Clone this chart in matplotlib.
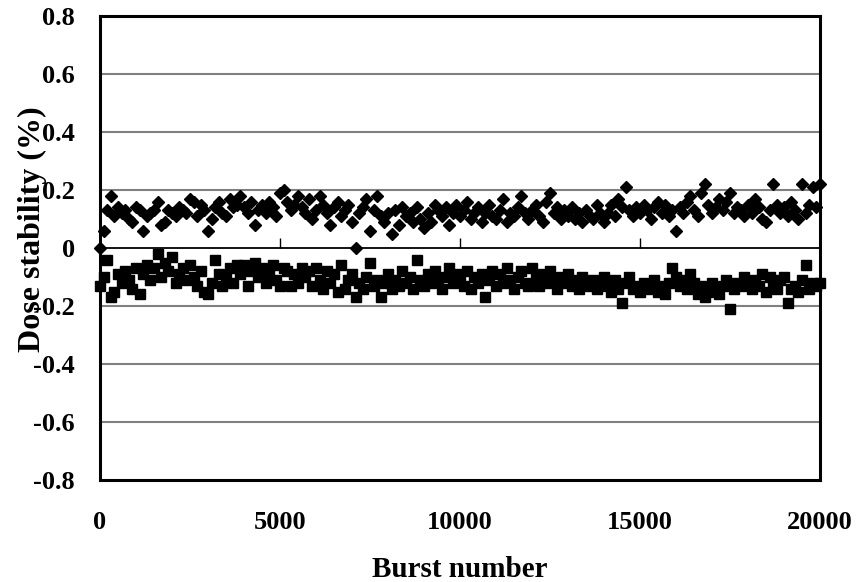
"""Dose stability versus burst number (two polarities)."""

import numpy as np
import matplotlib
matplotlib.use("Agg")
import matplotlib.pyplot as plt


BURST = np.arange(0, 20001, 100)

DOSE_POS = [
    0.00, 0.06, 0.13, 0.18, 0.11, 0.14, 0.12, 0.13, 0.10, 0.09,
    0.14, 0.13, 0.06, 0.11, 0.12, 0.13, 0.16, 0.08, 0.09, 0.13,
    0.12, 0.11, 0.14, 0.13, 0.12, 0.17, 0.16, 0.11, 0.15, 0.13,
    0.06, 0.10, 0.14, 0.16, 0.12, 0.11, 0.17, 0.14, 0.15, 0.18,
    0.14, 0.12, 0.16, 0.08, 0.13, 0.15, 0.12, 0.16, 0.14, 0.11,
    0.19, 0.20, 0.16, 0.13, 0.15, 0.18, 0.14, 0.12, 0.17, 0.10,
    0.13, 0.18, 0.15, 0.12, 0.08, 0.14, 0.16, 0.11, 0.13, 0.15,
    0.09, 0.00, 0.12, 0.14, 0.17, 0.06, 0.13, 0.18, 0.11, 0.09,
    0.12, 0.05, 0.13, 0.08, 0.14, 0.11, 0.12, 0.09, 0.14, 0.10,
    0.07, 0.12, 0.09, 0.15, 0.13, 0.11, 0.14, 0.08, 0.12, 0.15,
    0.11, 0.13, 0.16, 0.10, 0.12, 0.14, 0.09, 0.12, 0.15, 0.11,
    0.10, 0.13, 0.17, 0.09, 0.12, 0.11, 0.14, 0.18, 0.12, 0.10,
    0.13, 0.15, 0.11, 0.09, 0.16, 0.19, 0.12, 0.14, 0.10, 0.13,
    0.11, 0.14, 0.10, 0.12, 0.09, 0.13, 0.11, 0.10, 0.15, 0.12,
    0.09, 0.12, 0.15, 0.11, 0.17, 0.14, 0.21, 0.13, 0.11, 0.14,
    0.12, 0.15, 0.13, 0.10, 0.14, 0.16, 0.12, 0.15, 0.11, 0.13,
    0.06, 0.14, 0.12, 0.16, 0.18, 0.13, 0.11, 0.19, 0.22, 0.15,
    0.12, 0.14, 0.17, 0.13, 0.16, 0.19, 0.12, 0.14, 0.13, 0.11,
    0.15, 0.12, 0.17, 0.14, 0.10, 0.09, 0.13, 0.22, 0.15, 0.12,
    0.14, 0.11, 0.16, 0.13, 0.10, 0.22, 0.12, 0.15, 0.21, 0.14,
    0.22,
]

DOSE_NEG = [
    -0.13, -0.10, -0.04, -0.17, -0.15, -0.09, -0.12, -0.08, -0.11, -0.14,
    -0.07, -0.16, -0.09, -0.06, -0.11, -0.07, -0.02, -0.10, -0.05, -0.08,
    -0.03, -0.12, -0.09, -0.07, -0.11, -0.06, -0.10, -0.13, -0.08, -0.15,
    -0.16, -0.12, -0.04, -0.09, -0.13, -0.10, -0.07, -0.12, -0.06, -0.09,
    -0.06, -0.13, -0.08, -0.05, -0.10, -0.07, -0.12, -0.09, -0.06, -0.11,
    -0.13, -0.07, -0.08, -0.13, -0.09, -0.12, -0.07, -0.10, -0.08, -0.13,
    -0.07, -0.11, -0.14, -0.08, -0.12, -0.09, -0.15, -0.06, -0.14, -0.11,
    -0.09, -0.17, -0.12, -0.14, -0.10, -0.05, -0.13, -0.11, -0.17, -0.12,
    -0.09, -0.14, -0.11, -0.13, -0.08, -0.12, -0.10, -0.14, -0.04, -0.11,
    -0.13, -0.09, -0.12, -0.08, -0.11, -0.14, -0.10, -0.07, -0.12, -0.09,
    -0.11, -0.13, -0.08, -0.14, -0.10, -0.12, -0.09, -0.17, -0.11, -0.08,
    -0.13, -0.09, -0.12, -0.07, -0.11, -0.14, -0.10, -0.08, -0.12, -0.13,
    -0.07, -0.10, -0.13, -0.09, -0.12, -0.08, -0.11, -0.14, -0.10, -0.12,
    -0.09, -0.13, -0.11, -0.14, -0.10, -0.12, -0.13, -0.11, -0.14, -0.12,
    -0.10, -0.13, -0.15, -0.11, -0.14, -0.19, -0.12, -0.10, -0.14, -0.13,
    -0.15, -0.12, -0.14, -0.13, -0.11, -0.15, -0.13, -0.16, -0.12, -0.07,
    -0.10, -0.13, -0.11, -0.14, -0.09, -0.12, -0.16, -0.13, -0.17, -0.15,
    -0.12, -0.14, -0.16, -0.13, -0.11, -0.21, -0.14, -0.12, -0.13, -0.10,
    -0.12, -0.14, -0.11, -0.13, -0.09, -0.15, -0.10, -0.12, -0.14, -0.11,
    -0.10, -0.19, -0.14, -0.13, -0.15, -0.11, -0.06, -0.14, -0.12, -0.13,
    -0.12,
]

X_TICKS = [0, 5000, 10000, 15000, 20000]
Y_TICKS = [-0.8, -0.6, -0.4, -0.2, 0, 0.2, 0.4, 0.6, 0.8]
Y_LABELS = ["-0.8", "-0.6", "-0.4", "-0.2", "0", "0.2", "0.4", "0.6", "0.8"]


def main() -> None:
    plt.rcParams["font.family"] = "Liberation Serif"
    plt.rcParams["font.weight"] = "bold"

    fig = plt.figure(figsize=(8.6, 5.82), dpi=100)
    ax = fig.add_axes([100 / 860, 1 - 480 / 582, 720 / 860, 464 / 582])

    # grid lines at +-0.2 .. +-0.6, axis line at zero
    for y in Y_TICKS[1:-1]:
        if y == 0:
            ax.axhline(0, color="black", linewidth=1.3, zorder=1)
        else:
            ax.axhline(y, color="#808080", linewidth=1.5, zorder=1)
    ax.vlines(X_TICKS[1:-1], 0, 0.035, color="black", linewidth=1.0, zorder=1)

    ax.plot(BURST, DOSE_POS, linestyle="none", marker="D", markersize=6.0,
            color="black", clip_on=False, zorder=3)
    ax.plot(BURST, DOSE_NEG, linestyle="none", marker="s", markersize=7.0,
            color="black", clip_on=False, zorder=3)

    ax.set_xlim(0, 20000)
    ax.set_ylim(-0.8, 0.8)
    ax.set_xticks(X_TICKS)
    ax.set_xticklabels([str(t) for t in X_TICKS])
    ax.set_yticks(Y_TICKS)
    ax.set_yticklabels(Y_LABELS)
    ax.tick_params(axis="both", length=0, labelsize=19)
    ax.tick_params(axis="x", pad=22)
    ax.tick_params(axis="y", pad=18)

    for spine in ax.spines.values():
        spine.set_linewidth(2.2)
        spine.set_color("black")

    ax.set_xlabel("Burst number", fontsize=21, fontweight="bold", labelpad=16)
    ax.set_ylabel("Dose stability (%)", fontsize=23, fontweight="bold")
    ax.yaxis.set_label_coords(-0.074, 0.54)

    fig.savefig("out.png", dpi=100)


if __name__ == "__main__":
    main()
